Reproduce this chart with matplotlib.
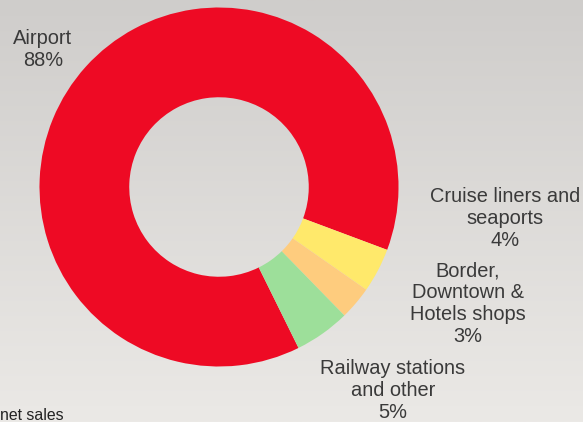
import numpy as np
import matplotlib
matplotlib.use('Agg')
import matplotlib.pyplot as plt

# Segments of net sales by channel
kanaly = ['Airport', 'Cruise liners and\nseaports', 'Border,\nDowntown &\nHotels shops',
          'Railway stations\nand other']
udzialy = [88, 4, 3, 5]
kolory = ['#EE0A24', '#FFE96B', '#FECC7E', '#9DDF9A']

# Label anchors in pixel coordinates (y up)
pozycje_etykiet = [(43, 373), (505, 204), (468, 118), (393, 32)]

plt.rcParams['font.family'] = ['Liberation Sans', 'DejaVu Sans']

fig = plt.figure(figsize=(5.83, 4.22), dpi=100)
ax = fig.add_axes([0, 0, 1, 1])

# Background: vertical gray gradient, darker at the top
gora = np.array([207, 205, 203]) / 255
dol = np.array([235, 233, 230]) / 255
t = np.linspace(0, 1, 256)[:, None]
gradient = (gora * (1 - t) + dol * t)[:, None, :]
ax.imshow(gradient, extent=[0, 583, 0, 422], aspect='auto', zorder=0)

# Donut
ax.pie(udzialy, colors=kolory, center=(219, 235), radius=179.5,
       startangle=296.3, counterclock=False,
       wedgeprops=dict(width=89.75, edgecolor='none'), frame=True)

for nazwa, wartosc, (x, y) in zip(kanaly, udzialy, pozycje_etykiet):
    ax.text(x, y, f'{nazwa}\n{wartosc}%', ha='center', va='center',
            fontsize=14.4, color='#3a3a3a', linespacing=1.2)

ax.text(0, 7, 'net sales', ha='left', va='center', fontsize=11.4, color='#222222')

ax.set_xlim(0, 583)
ax.set_ylim(0, 422)
ax.set_aspect('auto')
ax.axis('off')

fig.savefig('out.png', dpi=100)
